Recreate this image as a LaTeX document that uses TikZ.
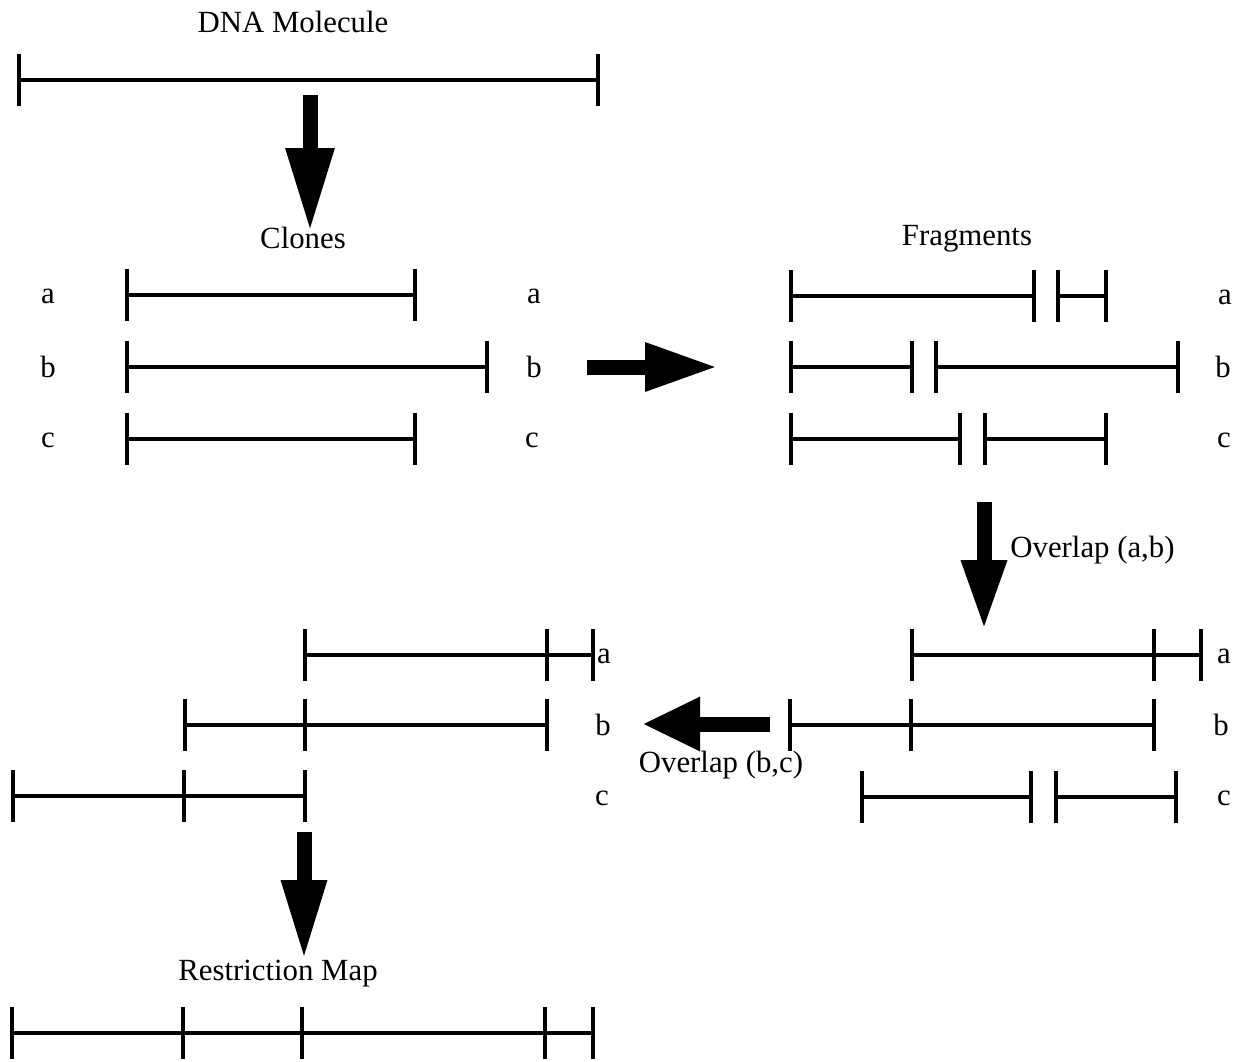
\documentclass[tikz,border=0pt]{standalone}
\usepackage{fontspec}
\setmainfont{Liberation Serif}
\usetikzlibrary{arrows.meta}
\newcommand{\seg}[3]{\draw[barline] (#1,#3) -- (#2,#3);}
\newcommand{\tk}[2]{\draw[tickline] (#1,{#2-26}) -- (#1,{#2+26});}
\begin{document}
\begin{tikzpicture}[x=0.5pt,y=-0.5pt,
  barline/.style={line width=1.6pt},
  tickline/.style={line width=1.6pt},
  lbl/.style={font=\fontsize{15.4}{18}\selectfont, inner sep=0pt},
  fat/.style n args={2}{line width=7.5pt, -{Triangle[length=#1pt, width=#2pt]}}]
\useasboundingbox (0,0) rectangle (1243,1061);
% titles
\node[lbl] (dna) at (293,22) {DNA Molecule};
\node[lbl] (clones) at (303,238) {Clones};
\node[lbl] (frag) at (967,239) {Fragments};
\node[lbl, anchor=west] (ovab) at (1010,550) {Overlap (a,b)};
\node[lbl] (ovbc) at (721,765) {Overlap (b,c)};
\node[lbl] (rmap) at (278,974) {Restriction Map};
% DNA molecule
\seg{19}{598}{80} \tk{19}{80} \tk{598}{80}
% clones
\node[lbl] (ca) at (48,296) {a}; \node[lbl] (ca2) at (534,296) {a};
\node[lbl] (cb) at (48,367) {b}; \node[lbl] (cb2) at (534,367) {b};
\node[lbl] (cc) at (48,440) {c}; \node[lbl] (cc2) at (532,440) {c};
\seg{127}{415}{295} \tk{127}{295} \tk{415}{295}
\seg{127}{487}{367} \tk{127}{367} \tk{487}{367}
\seg{127}{415}{439} \tk{127}{439} \tk{415}{439}
% fragments
\node[lbl] (fa) at (1225,297) {a};
\node[lbl] (fb) at (1223,367) {b};
\node[lbl] (fc) at (1224,440) {c};
\seg{791}{1034}{296} \tk{791}{296} \tk{1034}{296}
\seg{1058}{1106}{296} \tk{1058}{296} \tk{1106}{296}
\seg{791}{912}{367} \tk{791}{367} \tk{912}{367}
\seg{936}{1178}{367} \tk{936}{367} \tk{1178}{367}
\seg{791}{960}{439} \tk{791}{439} \tk{960}{439}
\seg{985}{1106}{439} \tk{985}{439} \tk{1106}{439}
% overlap (a,b) result
\node[lbl] (ra) at (1224,656) {a};
\node[lbl] (rb) at (1221,725) {b};
\node[lbl] (rc) at (1224,798) {c};
\seg{912}{1201}{655} \tk{912}{655} \tk{1154}{655} \tk{1201}{655}
\seg{790}{1154}{725} \tk{790}{725} \tk{911}{725} \tk{1154}{725}
\seg{862}{1031}{797} \tk{862}{797} \tk{1031}{797}
\seg{1056}{1176}{797} \tk{1056}{797} \tk{1176}{797}
% overlap (b,c) result
\node[lbl] (la) at (604,656) {a};
\node[lbl] (lb) at (603,725) {b};
\node[lbl] (lc) at (602,798) {c};
\seg{305}{593}{655} \tk{305}{655} \tk{547}{655} \tk{593}{655}
\seg{185}{547}{725} \tk{185}{725} \tk{305}{725} \tk{547}{725}
\seg{13}{305}{796} \tk{13}{796} \tk{184}{796} \tk{305}{796}
% restriction map
\seg{12}{593}{1033} \tk{12}{1033} \tk{183}{1033} \tk{302}{1033} \tk{545}{1033} \tk{593}{1033}
% arrows
\coordinate (a1s) at (310,95);  \coordinate (a1e) at (310,232);
\coordinate (a2s) at (587,367); \coordinate (a2e) at (718,367);
\coordinate (a3s) at (984,502); \coordinate (a3e) at (984,630);
\coordinate (a4s) at (770,724); \coordinate (a4e) at (642,724);
\coordinate (a5s) at (304,832); \coordinate (a5e) at (304,960);
\draw[fat={42}{22.5}] (a1s) -- (a1e);
\draw[fat={36.5}{22.5}] (a2s) -- (a2e);
\draw[fat={35}{21}] (a3s) -- (a3e);
\draw[fat={29}{25}] (a4s) -- (a4e);
\draw[fat={40}{21}] (a5s) -- (a5e);
\end{tikzpicture}
\end{document}
